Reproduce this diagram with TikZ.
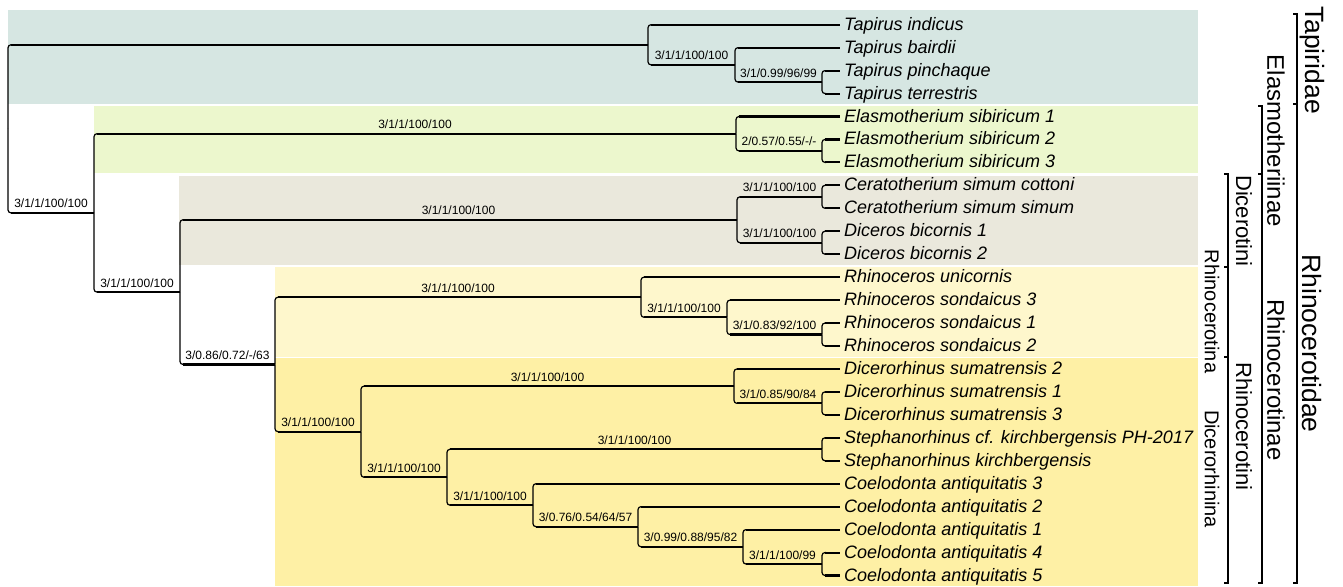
\documentclass[tikz,border=0pt]{standalone}
\usepackage{fontspec}
\setmainfont{Liberation Sans}
\usetikzlibrary{calc}
\definecolor{tapc}{HTML}{D6E6E2}
\definecolor{elac}{HTML}{ECF7CD}
\definecolor{dicc}{HTML}{EAE8DC}
\definecolor{rhic}{HTML}{FEF7CC}
\definecolor{dnc}{HTML}{FEF0A5}
\newcommand\tbranch[2]{%
  \draw[vline] (#1) |- ($(#1 |- #2)+(4,0)$);
  \draw[hline] ($(#1 |- #2)+(2.5,0)$) -- (#2);}
\newcommand\tlabel[3]{%
  \node[supp] at ($(#1 |- #2)!.5!(#2)+(0,-5)$) {#3};}
\begin{document}
\begin{tikzpicture}[x=1pt,y=-1pt,
  vline/.style={line width=1.2pt, rounded corners=3pt},
  hline/.style={line width=2.1pt},
  leaf/.style={font=\fontsize{18}{20}\selectfont\itshape, inner sep=0pt, anchor=base west},
  supp/.style={font=\fontsize{12}{14}\selectfont, inner sep=0pt, anchor=base},
  brk/.style={line width=1.4pt},
  cladeA/.style={font=\fontsize{26.5}{28}\selectfont, rotate=-90, inner sep=0pt},
  cladeB/.style={font=\fontsize{24}{26}\selectfont, rotate=-90, inner sep=0pt},
  cladeC/.style={font=\fontsize{22}{24}\selectfont, rotate=-90, inner sep=0pt},
  cladeD/.style={font=\fontsize{20}{22}\selectfont, rotate=-90, inner sep=0pt}]
\useasboundingbox (0,0) rectangle (1343,586);
% bands
\fill[tapc] (8,10) rectangle (1198,103.5);
\fill[elac] (94,106) rectangle (1198,173);
\fill[dicc] (179,175.5) rectangle (1198,265);
\fill[rhic] (275,266.5) rectangle (1198,356.5);
\fill[dnc] (275,358) rectangle (1198,586);
% internal nodes
\coordinate (root) at (8,128.84);
\coordinate (Tap) at (648,44.78);
\coordinate (B) at (735,64.86);
\coordinate (C) at (822,82.08);
\coordinate (Rd) at (94,212.9);
\coordinate (Elas) at (736,133.71);
\coordinate (E23) at (822,150.93);
\coordinate (Re) at (180,292.1);
\coordinate (Dt) at (737,219.78);
\coordinate (Cer) at (822,196.83);
\coordinate (Dic) at (822,242.73);
\coordinate (Ri) at (275,364.45);
\coordinate (Rh) at (641,297.2);
\coordinate (RS) at (727,317.3);
\coordinate (S12) at (822,334.53);
\coordinate (Dn) at (361,431.7);
\coordinate (Dr) at (734,386.16);
\coordinate (D13) at (822,403.38);
\coordinate (SC) at (447,477.24);
\coordinate (St) at (822,449.28);
\coordinate (Co) at (533,505.2);
\coordinate (X) at (638,526.7);
\coordinate (Y) at (743,546.8);
\coordinate (Z) at (822,564.03);
% leaves
\foreach \n [count=\i from 0] in {Tapirus indicus, Tapirus bairdii, Tapirus pinchaque, Tapirus terrestris,
  Elasmotherium sibiricum 1, Elasmotherium sibiricum 2, Elasmotherium sibiricum 3,
  Ceratotherium simum cottoni, Ceratotherium simum simum, Diceros bicornis 1, Diceros bicornis 2,
  Rhinoceros unicornis, Rhinoceros sondaicus 3, Rhinoceros sondaicus 1, Rhinoceros sondaicus 2,
  Dicerorhinus sumatrensis 2, Dicerorhinus sumatrensis 1, Dicerorhinus sumatrensis 3,
  Stephanorhinus cf. kirchbergensis PH-2017, Stephanorhinus kirchbergensis,
  Coelodonta antiquitatis 3, Coelodonta antiquitatis 2, Coelodonta antiquitatis 1,
  Coelodonta antiquitatis 4, Coelodonta antiquitatis 5}
{
  \coordinate (l\i) at (840,24.7+22.95*\i);
  \node[leaf] (t\i) at (844,30.2+22.95*\i) {\n};
}
% branches
\tbranch{root}{Tap} \tbranch{root}{Rd}
\tbranch{Tap}{l0} \tbranch{Tap}{B}
\tbranch{B}{l1} \tbranch{B}{C}
\tbranch{C}{l2} \tbranch{C}{l3}
\tbranch{Rd}{Elas} \tbranch{Rd}{Re}
\tbranch{Elas}{l4} \tbranch{Elas}{E23}
\tbranch{E23}{l5} \tbranch{E23}{l6}
\tbranch{Re}{Dt} \tbranch{Re}{Ri}
\tbranch{Dt}{Cer} \tbranch{Dt}{Dic}
\tbranch{Cer}{l7} \tbranch{Cer}{l8}
\tbranch{Dic}{l9} \tbranch{Dic}{l10}
\tbranch{Ri}{Rh} \tbranch{Ri}{Dn}
\tbranch{Rh}{l11} \tbranch{Rh}{RS}
\tbranch{RS}{l12} \tbranch{RS}{S12}
\tbranch{S12}{l13} \tbranch{S12}{l14}
\tbranch{Dn}{Dr} \tbranch{Dn}{SC}
\tbranch{Dr}{l15} \tbranch{Dr}{D13}
\tbranch{D13}{l16} \tbranch{D13}{l17}
\tbranch{SC}{St} \tbranch{SC}{Co}
\tbranch{St}{l18} \tbranch{St}{l19}
\tbranch{Co}{l20} \tbranch{Co}{X}
\tbranch{X}{l21} \tbranch{X}{Y}
\tbranch{Y}{l22} \tbranch{Y}{Z}
\tbranch{Z}{l23} \tbranch{Z}{l24}
% support labels
\tlabel{Tap}{B}{3/1/1/100/100}
\tlabel{B}{C}{3/1/0.99/96/99}
\tlabel{root}{Rd}{3/1/1/100/100}
\tlabel{Rd}{Elas}{3/1/1/100/100}
\tlabel{Elas}{E23}{2/0.57/0.55/-/-}
\tlabel{Rd}{Re}{3/1/1/100/100}
\tlabel{Re}{Dt}{3/1/1/100/100}
\tlabel{Dt}{Cer}{3/1/1/100/100}
\tlabel{Dt}{Dic}{3/1/1/100/100}
\tlabel{Re}{Ri}{3/0.86/0.72/-/63}
\tlabel{Ri}{Rh}{3/1/1/100/100}
\tlabel{Rh}{RS}{3/1/1/100/100}
\tlabel{RS}{S12}{3/1/0.83/92/100}
\tlabel{Ri}{Dn}{3/1/1/100/100}
\tlabel{Dn}{Dr}{3/1/1/100/100}
\tlabel{Dr}{D13}{3/1/0.85/90/84}
\tlabel{Dn}{SC}{3/1/1/100/100}
\tlabel{SC}{St}{3/1/1/100/100}
\tlabel{SC}{Co}{3/1/1/100/100}
\tlabel{Co}{X}{3/0.76/0.54/64/57}
\tlabel{X}{Y}{3/0.99/0.88/95/82}
\tlabel{Y}{Z}{3/1/1/100/99}
% clade brackets
\draw[brk] (1293,14) -- (1297,14) -- (1297,104) -- (1293,104);
\draw[brk] (1297,104) -- (1297,583) -- (1293,583);
\draw[brk] (1258,106) -- (1262,106) -- (1262,174) -- (1258,174);
\draw[brk] (1262,174) -- (1262,583) -- (1258,583);
\draw[brk] (1224,174) -- (1228,174) -- (1228,267) -- (1224,267);
\draw[brk] (1228,267) -- (1228,583) -- (1224,583);
\draw[brk] (1224,357) -- (1228,357);
\node[cladeA] (tapiridae) at (1312,60) {Tapiridae};
\node[cladeA] (rhinocerotidae) at (1312,343.5) {Rhinocerotidae};
\node[cladeB] (elasmotheriinae) at (1276,141) {Elasmotheriinae};
\node[cladeB] (rhinocerotinae) at (1276,380) {Rhinocerotinae};
\node[cladeC] (dicerotini) at (1244,221) {Dicerotini};
\node[cladeC] (rhinocerotini) at (1244,426.5) {Rhinocerotini};
\node[cladeD] (rhinocerotina) at (1212,311.5) {Rhinocerotina};
\node[cladeD] (dicerorhinina) at (1212,469) {Dicerorhinina};
\end{tikzpicture}
\end{document}
